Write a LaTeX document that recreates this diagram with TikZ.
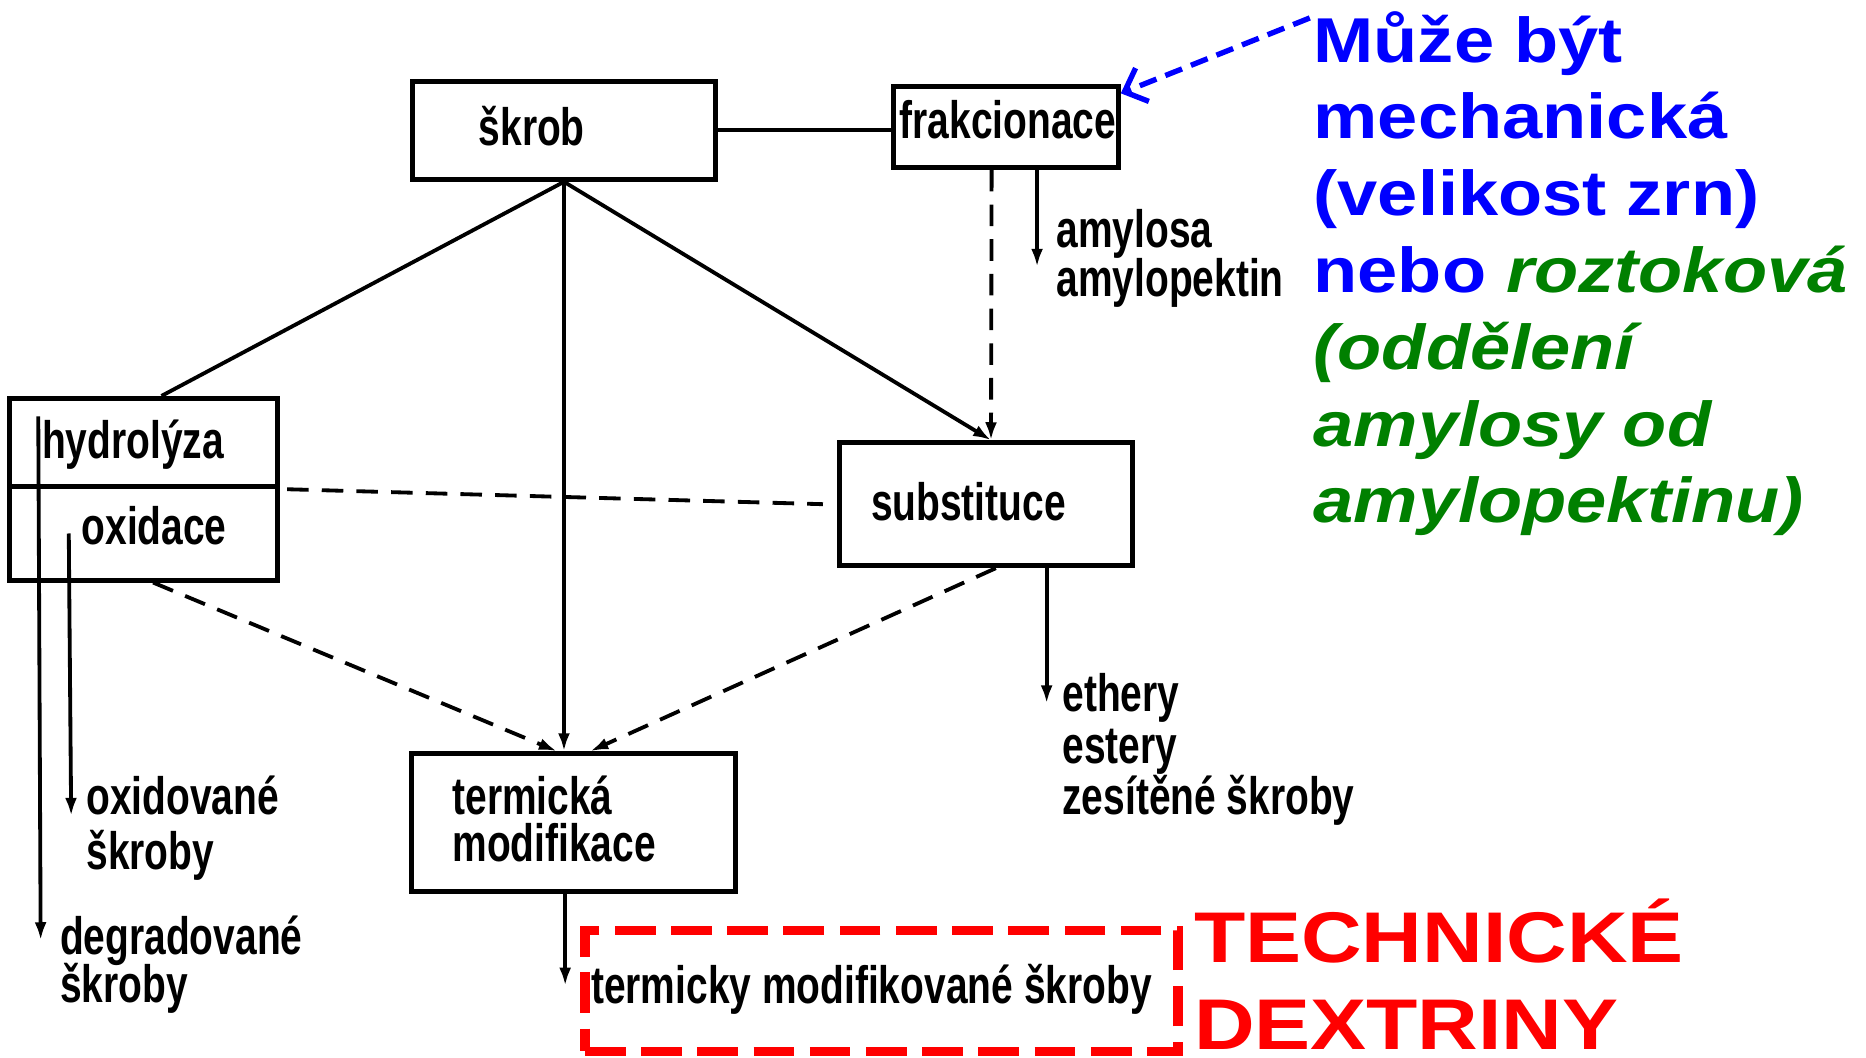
\documentclass[tikz,border=0pt]{standalone}
\usepackage{fontspec}
\setmainfont{Liberation Sans}
\usepackage{graphicx}
\usetikzlibrary{arrows.meta,calc}
\definecolor{blu}{RGB}{0,0,255}
\definecolor{grn}{RGB}{0,128,0}
\definecolor{rd}{RGB}{255,0,0}
\newcommand{\sct}[2]{\scalebox{0.74}[1]{\fontsize{44}{#1}\selectfont\bfseries\vtop{\lineskiplimit=-100pt\lineskip=0pt #2}}}
\newcommand{\bigt}[4]{\scalebox{#1}[1]{\fontsize{#2}{#3}\selectfont\bfseries\vtop{\lineskiplimit=-100pt\lineskip=0pt #4}}}
\begin{document}
\begin{tikzpicture}[x=1pt,y=-1pt,
  box/.style={draw,line width=4pt,inner sep=0pt},
  txt/.style={inner sep=0pt,anchor=base west},
  conn/.style={line width=3.2pt},
  dsh/.style={line width=3.2pt,dash pattern=on 18pt off 11pt},
  arr/.style={-{Latex[length=15pt,width=10pt]}},
  bluearr/.style={draw=blu,line width=4.5pt,dash pattern=on 15pt off 8pt,-{Straight Barb[length=16pt,width=30pt]}},
  redbox/.style={draw=rd,line width=8pt,dash pattern=on 34pt off 13pt,inner sep=0pt}
]
\useasboundingbox[fill=white] (0,0) rectangle (1560,884);

% boxes
\node[box,minimum width=253pt,minimum height=82pt] (skrob) at (471.5,109) {};
\node[box,minimum width=188pt,minimum height=68pt] (frak) at (841,106) {};
\node[box,minimum width=224pt,minimum height=74pt] (hyd) at (120,370) {};
\node[box,minimum width=224pt,minimum height=78pt] (oxi) at (120,446) {};
\node[box,minimum width=245pt,minimum height=103pt] (subst) at (824.5,421.5) {};
\node[box,minimum width=271pt,minimum height=115pt] (term) at (479.5,687.5) {};
\node[redbox,minimum width=496pt,minimum height=101pt] (red) at (737,828.5) {};

% texts
\node[txt] (tskrob) at (400,122) {\sct{41}{\hbox{škrob}}};
\node[txt] (tfrak) at (752,116) {\sct{41}{\hbox{frakcionace}}};
\node[txt] (thyd) at (35,383) {\sct{41}{\hbox{hydrolýza}}};
\node[txt] (toxi) at (68,455) {\sct{41}{\hbox{oxidace}}};
\node[txt] (tsubst) at (728,435) {\sct{41}{\hbox{substituce}}};
\node[txt] (tterm) at (378,681) {\sct{39}{\hbox{termická}\hbox{modifikace}}};
\node[txt] (tamy) at (883,207) {\sct{41}{\hbox{amylosa}\hbox{amylopektin}}};
\node[txt] (teth) at (888,595) {\sct{43}{\hbox{ethery}\hbox{estery}\hbox{zesítěné škroby}}};
\node[txt] (toxs) at (72,681) {\sct{46}{\hbox{oxidované}\hbox{škroby}}};
\node[txt] (tdeg) at (50,798) {\sct{40}{\hbox{degradované}\hbox{škroby}}};
\node[txt] (tred) at (494,839) {\sct{41}{\hbox{termicky modifikované škroby}}};

\node[txt,text=blu] (note) at (1098,52) {\bigt{1.14}{53}{64.2}{\hbox{Může být}\hbox{mechanická}\hbox{(velikost zrn)}\hbox{nebo \textcolor{grn}{\itshape roztoková}}\hbox{\color{grn}\itshape (oddělení}\hbox{\color{grn}\itshape amylosy od}\hbox{\color{grn}\itshape amylopektinu)}}};
\node[txt,text=rd] (tech) at (998,805) {\bigt{1.17}{60}{72}{\hbox{TECHNICKÉ}\hbox{DEXTRINY}}};

% connectors
\draw[conn] (skrob.east) -- (skrob.east -| frak.west);
\draw[conn] (skrob.south) -- ([xshift=15pt]hyd.north);
\draw[conn,arr] (skrob.south) -- ([xshift=4pt]subst.north);
\draw[conn,arr] (skrob.south) -- ([xshift=-8pt]term.north);
\draw[dsh,arr] ([xshift=-12pt]frak.south) -- ([xshift=4pt]subst.north);
\draw[conn,arr] ($(frak.south)+(26,0)$) -- ($(tamy.base west)+(-16,16)$);
\draw[conn,arr] ($(subst.south)+(50.5,0)$) -- ($(teth.base west)+(-13,-7)$);
\draw[dsh] ([xshift=6pt]hyd.south east) -- ([xshift=-12pt]subst.west);
\draw[dsh,arr] ([xshift=8pt]oxi.south) -- ([xshift=-14pt]term.north);
\draw[dsh,arr] ([xshift=8pt]subst.south) -- ([xshift=14pt]term.north);
\draw[conn,arr] ($(oxi.north west)+(51.5,41)$) -- ($(toxs.base west)+(-12.5,1)$);
\draw[conn,arr] ($(hyd.north west)+(26,17)$) -- ($(tdeg.base west)+(-16,-12)$);
\draw[conn,arr] ([xshift=-7pt]term.south) -- ($(tred.base west)+(-21.5,-15)$);
\draw[bluearr] ($(note.base west)+(-3,-37)$) -- ([yshift=-8pt]frak.north east);
\end{tikzpicture}
\end{document}
